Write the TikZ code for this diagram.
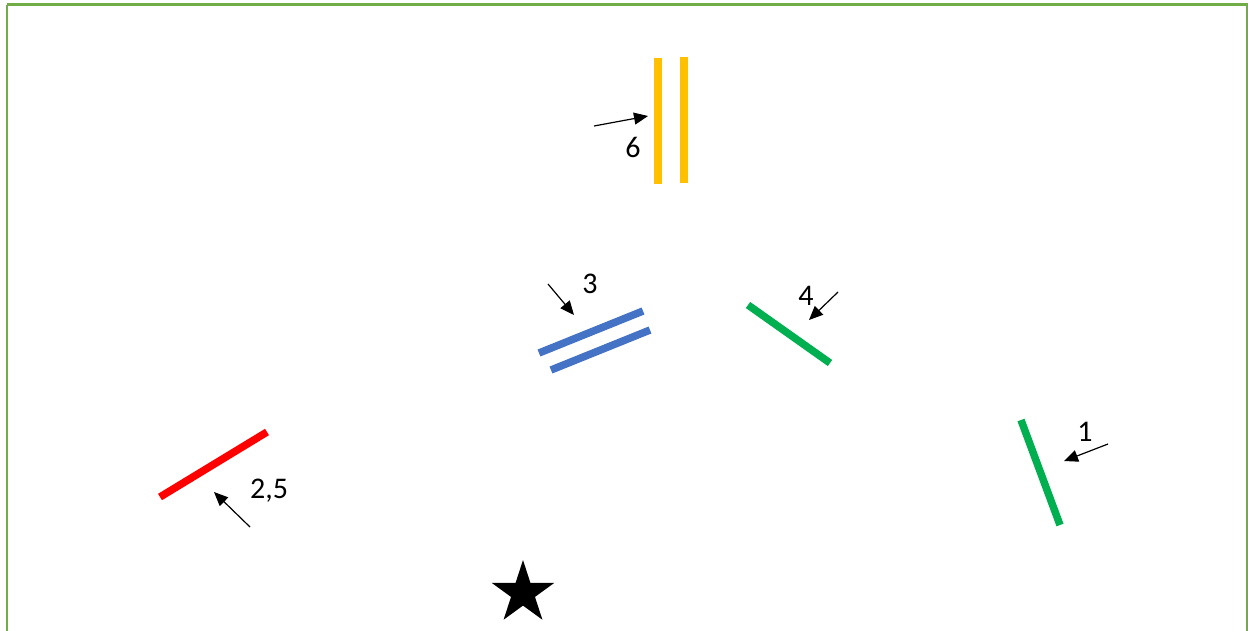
\documentclass[tikz,border=0pt]{standalone}
\usepackage{fontspec}
\setmainfont{Carlito}
\usetikzlibrary{arrows.meta,shapes.geometric}
\definecolor{frame}{HTML}{70AD47}
\definecolor{gold}{HTML}{FFC000}
\definecolor{blu}{HTML}{4472C4}
\definecolor{grn}{HTML}{00B050}
\definecolor{rd}{HTML}{FF0000}
\begin{document}
\begin{tikzpicture}[x=1pt,y=-1pt,
  bar/.style={line width=7.5pt},
  pointer/.style={line width=1.2pt,-{Triangle[length=14pt,width=12pt]}},
  lbl/.style={font=\fontsize{30}{32}\selectfont,inner sep=0pt}]
\useasboundingbox (0,0) rectangle (1248,630);
\begin{scope}
\clip (0,0) rectangle (1248,630);
\draw[frame,line width=2.6pt] (7,4.5) -- (1247.5,4.5) -- (1247.5,660) (7,4.5) -- (7,660);
\end{scope}
% yellow pair
\draw[bar,gold] (658,58) -- (658,184);
\draw[bar,gold] (684,57) -- (684,183);
\coordinate (a6s) at (594,126); \coordinate (a6e) at (648,116);
\draw[pointer] (a6s) -- (a6e);
\node[lbl] (l6) at (633,147) {6};
% blue pair
\draw[bar,blu] (539,353) -- (643,311);
\draw[bar,blu] (551,370) -- (650,330);
\coordinate (a3s) at (548,284); \coordinate (a3e) at (574,315);
\draw[pointer] (a3s) -- (a3e);
\node[lbl] (l3) at (590,284) {3};
% green 4
\draw[bar,grn] (748,305) -- (830,363);
\coordinate (a4s) at (838,292); \coordinate (a4e) at (809,320);
\draw[pointer] (a4s) -- (a4e);
\node[lbl] (l4) at (806,296) {4};
% green 1
\draw[bar,grn] (1021,420) -- (1060,525);
\coordinate (a1s) at (1108,444); \coordinate (a1e) at (1064,461);
\draw[pointer] (a1s) -- (a1e);
\node[lbl] (l1) at (1085,432) {1};
% red
\draw[bar,rd] (160,497) -- (267,432);
\coordinate (a2s) at (250,527); \coordinate (a2e) at (214,492);
\draw[pointer] (a2s) -- (a2e);
\node[lbl] (l25) at (269,491) {2,5};
% star
\node[star,star points=5,star point ratio=2.62,fill=black,minimum size=66pt,inner sep=0pt] (st) at (523,593) {};
\end{tikzpicture}
\end{document}
